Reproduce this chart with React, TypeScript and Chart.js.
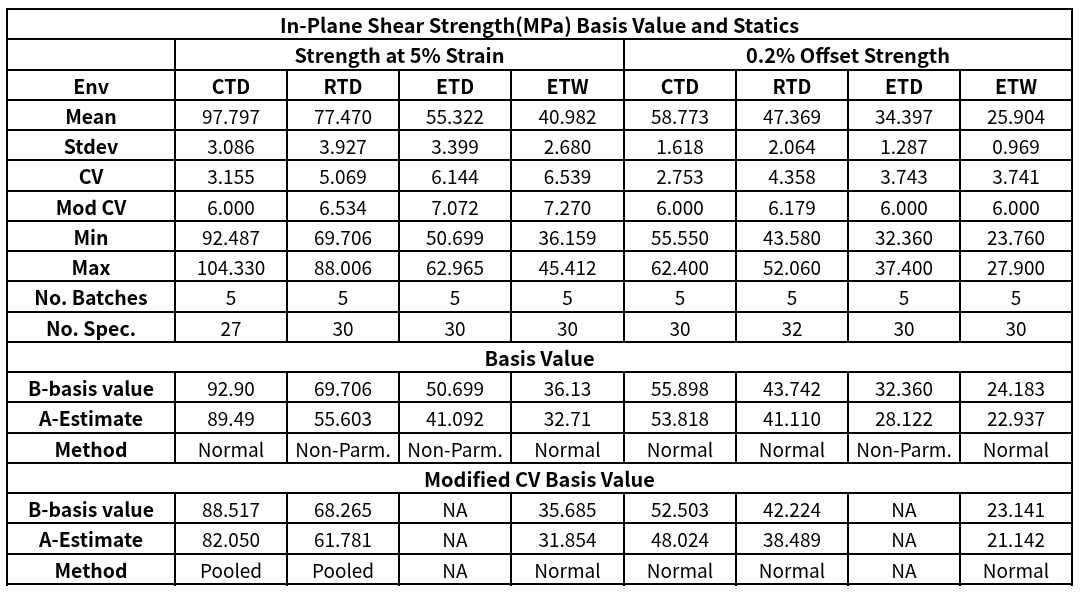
import React, { useEffect, useRef } from 'react';
import { Chart, registerables } from 'chart.js';

Chart.register(...registerables);

// ---------- data ----------
const tableTitle = 'In-Plane Shear Strength(MPa) Basis Value and Statics';
const groupTitles = ['Strength at 5% Strain', '0.2% Offset Strength'];
const envHeader = 'Env';
const envs = ['CTD', 'RTD', 'ETD', 'ETW', 'CTD', 'RTD', 'ETD', 'ETW'];

const statLabels = ['Mean', 'Stdev', 'CV', 'Mod CV', 'Min', 'Max', 'No. Batches', 'No. Spec.'];
const meanValues = ['97.797', '77.470', '55.322', '40.982', '58.773', '47.369', '34.397', '25.904'];
const stdevValues = ['3.086', '3.927', '3.399', '2.680', '1.618', '2.064', '1.287', '0.969'];
const cvValues = ['3.155', '5.069', '6.144', '6.539', '2.753', '4.358', '3.743', '3.741'];
const modCvValues = ['6.000', '6.534', '7.072', '7.270', '6.000', '6.179', '6.000', '6.000'];
const minValues = ['92.487', '69.706', '50.699', '36.159', '55.550', '43.580', '32.360', '23.760'];
const maxValues = ['104.330', '88.006', '62.965', '45.412', '62.400', '52.060', '37.400', '27.900'];
const batchValues = ['5', '5', '5', '5', '5', '5', '5', '5'];
const specValues = ['27', '30', '30', '30', '30', '32', '30', '30'];

const basisSection = 'Basis Value';
const basisLabels = ['B-basis value', 'A-Estimate', 'Method'];
const bBasisValues = ['92.90', '69.706', '50.699', '36.13', '55.898', '43.742', '32.360', '24.183'];
const aEstimateValues = ['89.49', '55.603', '41.092', '32.71', '53.818', '41.110', '28.122', '22.937'];
const methodValues = ['Normal', 'Non-Parm.', 'Non-Parm.', 'Normal', 'Normal', 'Normal', 'Non-Parm.', 'Normal'];

const modCvSection = 'Modified CV Basis Value';
const modBBasisValues = ['88.517', '68.265', 'NA', '35.685', '52.503', '42.224', 'NA', '23.141'];
const modAEstimateValues = ['82.050', '61.781', 'NA', '31.854', '48.024', '38.489', 'NA', '21.142'];
const modMethodValues = ['Pooled', 'Pooled', 'NA', 'Normal', 'Normal', 'Normal', 'NA', 'Normal'];

// ---------- table structure built from data ----------
type Row =
  | { kind: 'title'; text: string }
  | { kind: 'groups'; texts: string[] }
  | { kind: 'header'; label: string; cells: string[] }
  | { kind: 'data'; label: string; cells: string[] }
  | { kind: 'section'; text: string };

const statSeries = [meanValues, stdevValues, cvValues, modCvValues, minValues, maxValues, batchValues, specValues];
const basisSeries = [bBasisValues, aEstimateValues, methodValues];
const modSeries = [modBBasisValues, modAEstimateValues, modMethodValues];

const rows: Row[] = [
  { kind: 'title', text: tableTitle },
  { kind: 'groups', texts: groupTitles },
  { kind: 'header', label: envHeader, cells: envs },
  ...statLabels.map((l, i) => ({ kind: 'data' as const, label: l, cells: statSeries[i] })),
  { kind: 'section', text: basisSection },
  ...basisLabels.map((l, i) => ({ kind: 'data' as const, label: l, cells: basisSeries[i] })),
  { kind: 'section', text: modCvSection },
  ...basisLabels.map((l, i) => ({ kind: 'data' as const, label: l, cells: modSeries[i] })),
];

const LABEL_SPAN = 1.5; // label column width in column units
const nCols = envs.length;
const xMax = LABEL_SPAN + nCols;

const FONT_FAMILY = '"Noto Sans CJK KR", "Noto Sans", sans-serif';

const tablePlugin = {
  id: 'tablePlugin',
  afterDraw(chart: any) {
    const ctx: CanvasRenderingContext2D = chart.ctx;
    const xs = chart.scales.x;
    const ys = chart.scales.y;
    const X = (v: number) => Math.round(xs.getPixelForValue(v));
    const Y = (v: number) => Math.round(ys.getPixelForValue(v));
    const left = X(0);
    const right = X(xMax);
    ctx.save();
    ctx.fillStyle = '#000';
    ctx.textAlign = 'center';
    ctx.textBaseline = 'alphabetic';

    const baseline = (r: number) => (Y(r) + Y(r + 1)) / 2 + 8.5;
    const boldBig = `bold 20px ${FONT_FAMILY}`;
    const bold = `bold 19.5px ${FONT_FAMILY}`;
    const normal = `19px ${FONT_FAMILY}`;

    rows.forEach((row, r) => {
      const by = baseline(r);
      if (row.kind === 'title' || row.kind === 'section') {
        ctx.font = boldBig;
        ctx.fillText(row.text, (left + right) / 2, by);
      } else if (row.kind === 'groups') {
        ctx.font = boldBig;
        const half = nCols / row.texts.length;
        row.texts.forEach((t, g) => {
          const a = LABEL_SPAN + g * half;
          ctx.fillText(t, (X(a) + X(a + half)) / 2, by);
        });
      } else {
        ctx.font = bold;
        ctx.fillText(row.label, (X(0) + X(LABEL_SPAN)) / 2, by);
        ctx.font = row.kind === 'header' ? bold : normal;
        row.cells.forEach((t, c) => {
          const a = LABEL_SPAN + c;
          ctx.fillText(t, (X(a) + X(a + 1)) / 2, by);
        });
      }
    });

    // grid lines
    ctx.strokeStyle = '#000';
    ctx.lineWidth = 2;
    ctx.lineCap = 'butt';
    const line = (x1: number, y1: number, x2: number, y2: number) => {
      ctx.beginPath();
      ctx.moveTo(x1, y1);
      ctx.lineTo(x2, y2);
      ctx.stroke();
    };
    for (let r = 0; r <= rows.length; r++) {
      line(left - 1, Y(r), right + 1, Y(r));
    }
    rows.forEach((row, r) => {
      const y1 = Y(r);
      const y2 = Y(r + 1) + (r === rows.length - 1 ? 2 : 0);
      line(left, y1, left, y2);
      line(right, y1, right, y2);
      if (row.kind === 'title' || row.kind === 'section') return;
      line(X(LABEL_SPAN), y1, X(LABEL_SPAN), y2);
      line(X(LABEL_SPAN + nCols / 2), y1, X(LABEL_SPAN + nCols / 2), y2);
      if (row.kind === 'groups') return;
      for (let c = 1; c < nCols; c++) {
        if (c === nCols / 2) continue;
        line(X(LABEL_SPAN + c), y1, X(LABEL_SPAN + c), y2);
      }
    });
    ctx.restore();
  },
};

export default function App() {
  const ref = useRef<HTMLCanvasElement | null>(null);
  useEffect(() => {
    if (!ref.current) return;
    const chart = new Chart(ref.current, {
      type: 'scatter',
      data: { datasets: [] },
      options: {
        animation: false,
        responsive: false,
        events: [],
        layout: { padding: { left: 7, top: 9, right: 16, bottom: 18 } },
        plugins: { legend: { display: false }, tooltip: { enabled: false } },
        scales: {
          x: { type: 'linear', min: 0, max: xMax, display: false },
          y: { type: 'linear', min: 0, max: rows.length, reverse: true, display: false },
        },
      },
      plugins: [tablePlugin],
    });
    return () => chart.destroy();
  }, []);
  return (
    <div style={{ position: 'absolute', left: 0, top: 0, width: 1088, height: 602, background: '#fff' }}>
      <canvas ref={ref} width={1088} height={602} />
    </div>
  );
}
